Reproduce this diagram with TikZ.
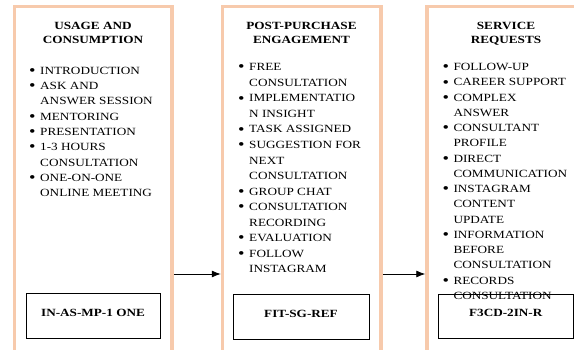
\documentclass[tikz,border=0pt]{standalone}
\usepackage{fontspec}
\setmainfont{Liberation Serif}[FakeStretch=1.2]
\usetikzlibrary{arrows.meta}
\definecolor{peach}{RGB}{247,202,172}
\newcommand{\dotitem}{\makebox[11pt][l]{\raisebox{-1.2pt}{\scalebox{1.4}{\textbullet}}}}

\begin{document}
\begin{tikzpicture}[x=1pt,y=-1pt,
  stage/.style={draw=peach, line width=3.5pt, anchor=north west, outer sep=0pt, inner sep=0pt, minimum height=420pt},
  head/.style={anchor=base, inner sep=0pt, font=\bfseries\fontsize{11}{14}\selectfont},
  list/.style={anchor=base west, inner sep=0pt, font=\fontsize{11}{#1}\selectfont},
  code/.style={draw, line width=0.8pt, inner sep=0pt, text height=8pt, text depth=7pt, font=\bfseries\fontsize{11}{14}\selectfont},
  >={Latex[length=9pt,width=7pt]}]
\useasboundingbox (0,0) rectangle (574,349);
\clip (0,0) rectangle (574,349);
% stages
\node[stage, minimum width=157.5pt] (usage) at (14.5,6.5) {};
\node[stage, minimum width=158.5pt] (post) at (222.5,6.5) {};
\node[stage, minimum width=159pt] (service) at (427,6.5) {};
% headings
\node[head] (usageHead) at (93,29.5) {\begin{tabular}[t]{@{}c@{}}USAGE AND\\CONSUMPTION\end{tabular}};
\node[head] (postHead) at (301.5,29.3) {\begin{tabular}[t]{@{}c@{}}POST-PURCHASE\\ENGAGEMENT\end{tabular}};
\node[head] (serviceHead) at (506,29.3) {\begin{tabular}[t]{@{}c@{}}SERVICE\\REQUESTS\end{tabular}};
% bullet lists
\node[list=15.35] (usageList) at (29,74) {\begin{tabular}[t]{@{}l@{}l@{}}
\dotitem & INTRODUCTION\\
\dotitem & ASK AND\\
 & ANSWER SESSION\\
\dotitem & MENTORING\\
\dotitem & PRESENTATION\\
\dotitem & 1-3 HOURS\\
 & CONSULTATION\\
\dotitem & ONE-ON-ONE\\
 & ONLINE MEETING
\end{tabular}};
\node[list=15.55] (postList) at (238,70.7) {\begin{tabular}[t]{@{}l@{}l@{}}
\dotitem & FREE\\
 & CONSULTATION\\
\dotitem & IMPLEMENTATIO\\
 & N INSIGHT\\
\dotitem & TASK ASSIGNED\\
\dotitem & SUGGESTION FOR\\
 & NEXT\\
 & CONSULTATION\\
\dotitem & GROUP CHAT\\
\dotitem & CONSULTATION\\
 & RECORDING\\
\dotitem & EVALUATION\\
\dotitem & FOLLOW\\
 & INSTAGRAM
\end{tabular}};
\node[list=15.25] (serviceList) at (442.3,70.7) {\begin{tabular}[t]{@{}l@{}l@{}}
\dotitem & FOLLOW-UP\\
\dotitem & CAREER SUPPORT\\
\dotitem & COMPLEX\\
 & ANSWER\\
\dotitem & CONSULTANT\\
 & PROFILE\\
\dotitem & DIRECT\\
 & COMMUNICATION\\
\dotitem & INSTAGRAM\\
 & CONTENT\\
 & UPDATE\\
\dotitem & INFORMATION\\
 & BEFORE\\
 & CONSULTATION\\
\dotitem & RECORDS\\
 & CONSULTATION
\end{tabular}};
% codes
\node[code, minimum width=134pt, minimum height=45.5pt] (usageCode) at (93,315.75) {IN-AS-MP-1 ONE};
\node[code, minimum width=136pt, minimum height=45pt] (postCode) at (301,316.5) {FIT-SG-REF};
\node[code, minimum width=134.5pt, minimum height=44.5pt] (serviceCode) at (505.75,316.25) {F3CD-2IN-R};
% flow
\coordinate (flow) at (0,274);
\draw[->, line width=0.8pt, shorten <=1.75pt, shorten >=1.75pt] (usage.east |- flow) -- (post.west |- flow);
\draw[->, line width=0.8pt, shorten <=1.75pt, shorten >=1.75pt] (post.east |- flow) -- (service.west |- flow);
\end{tikzpicture}
\end{document}
